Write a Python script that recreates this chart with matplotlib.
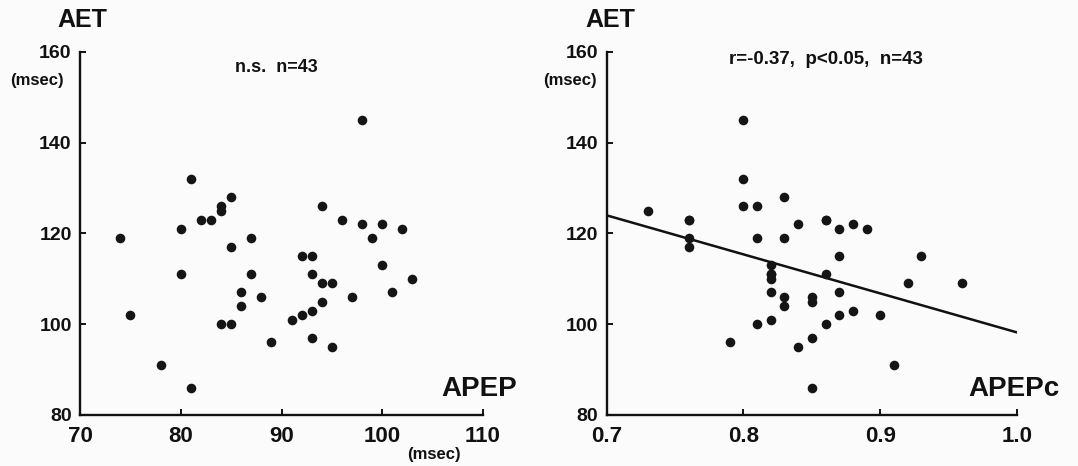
import matplotlib
matplotlib.use("Agg")
import matplotlib.pyplot as plt
import numpy as np

plt.rcParams['font.family'] = ['Liberation Sans', 'DejaVu Sans']
plt.rcParams['font.weight'] = 'bold'

# Left panel: APEP (msec) vs AET (msec)
apep = [74, 75, 78, 80, 80, 81, 81, 82, 83, 84, 84, 84, 85, 85, 85, 86, 86, 87, 87, 88,
        89, 91, 92, 92, 93, 93, 93, 93, 94, 94, 94, 95, 95, 96, 97, 98, 98, 99, 100, 100,
        101, 102, 103]
aet_left = [119, 102, 91, 121, 111, 132, 86, 123, 123, 126, 125, 100, 128, 117, 100, 107, 104, 119, 111, 106,
            96, 101, 115, 102, 115, 111, 103, 97, 126, 109, 105, 109, 95, 123, 106, 145, 122, 119, 122, 113,
            107, 121, 110]

# Right panel: APEPc vs AET (msec)
apepc = [0.73, 0.76, 0.76, 0.76, 0.76, 0.79, 0.80, 0.80, 0.80, 0.81, 0.81, 0.81, 0.82, 0.82, 0.82, 0.82, 0.82, 0.82,
         0.83, 0.83, 0.83, 0.83, 0.84, 0.84, 0.85, 0.85, 0.85, 0.85, 0.86, 0.86, 0.86, 0.86,
         0.87, 0.87, 0.87, 0.87, 0.88, 0.88, 0.89, 0.90, 0.91, 0.92, 0.93, 0.96]
aet_right = [125, 123, 123, 119, 117, 96, 145, 132, 126, 126, 119, 100, 113, 111, 111, 110, 107, 101,
             128, 119, 106, 104, 122, 95, 106, 105, 97, 86, 123, 111, 100, 123,
             121, 115, 107, 102, 122, 103, 121, 102, 91, 109, 115, 109]
apepc = apepc[:len(aet_right)]

# Regression line
fit_x = [0.7, 1.0]
fit_y = [124.0, 98.2]

left_xticks = [70, 80, 90, 100, 110]
right_xticks = [0.7, 0.8, 0.9, 1.0]
right_xticklabels = ['0.7', '0.8', '0.9', '1.0']
yticks = [80, 100, 120, 140, 160]

W, H = 1078, 466
fig = plt.figure(figsize=(W / 100, H / 100), dpi=100)
fig.patch.set_facecolor('#fbfbfb')

def px(x0, y0, x1, y1):
    return [x0 / W, 1 - y1 / H, (x1 - x0) / W, (y1 - y0) / H]

def style(ax):
    ax.set_facecolor('none')
    for s in ['top', 'right']:
        ax.spines[s].set_visible(False)
    for s in ['left', 'bottom']:
        ax.spines[s].set_linewidth(1.7)
        ax.spines[s].set_color('#111111')
    ax.tick_params(direction='in', length=4.5, width=1.4, color='#111111')
    ax.tick_params(axis='y', labelsize=14, pad=6)
    ax.tick_params(axis='x', labelsize=16, pad=8)
    ax.set_ylim(80, 160)
    ax.set_yticks(yticks)
    for lab in ax.get_xticklabels() + ax.get_yticklabels():
        lab.set_fontweight('bold')
        lab.set_color('#111111')

ax1 = fig.add_axes(px(80, 52, 483, 415))
ax1.scatter(apep, aet_left, s=48, color='#151515', zorder=3, linewidths=0)
ax1.set_xlim(70, 110)
ax1.set_xticks(left_xticks)
style(ax1)

ax2 = fig.add_axes(px(606.7, 52, 1017, 415))
ax2.scatter(apepc, aet_right, s=48, color='#151515', zorder=3, linewidths=0)
ax2.plot(fit_x, fit_y, color='#111111', lw=1.8, zorder=2)
ax2.set_xlim(0.7, 1.0)
ax2.set_xticks(right_xticks)
ax2.set_xticklabels(right_xticklabels)
style(ax2)

# texts
fig.text(57 / W, 1 - 20 / H, 'AET', fontsize=18, fontweight='bold', va='center', ha='left', color='#111111')
fig.text(10 / W, 1 - 81 / H, '(msec)', fontsize=12, fontweight='bold', va='center', ha='left', color='#111111')
fig.text(276 / W, 1 - 67 / H, 'n.s.  n=43', fontsize=13, fontweight='bold', va='center', ha='center', color='#111111')
fig.text(517 / W, 1 - 389 / H, 'APEP', fontsize=20, fontweight='bold', va='center', ha='right', color='#111111')
fig.text(434 / W, 1 - 455 / H, '(msec)', fontsize=12, fontweight='bold', va='center', ha='center', color='#111111')

fig.text(585 / W, 1 - 20 / H, 'AET', fontsize=18, fontweight='bold', va='center', ha='left', color='#111111')
fig.text(597 / W, 1 - 81 / H, '(msec)', fontsize=12, fontweight='bold', va='center', ha='right', color='#111111')
fig.text(826 / W, 1 - 59 / H, 'r=-0.37,  p<0.05,  n=43', fontsize=13.5, fontweight='bold', va='center', ha='center', color='#111111')
fig.text(1060 / W, 1 - 389 / H, 'APEPc', fontsize=20, fontweight='bold', va='center', ha='right', color='#111111')

fig.savefig('out.png', dpi=100, facecolor=fig.get_facecolor())
